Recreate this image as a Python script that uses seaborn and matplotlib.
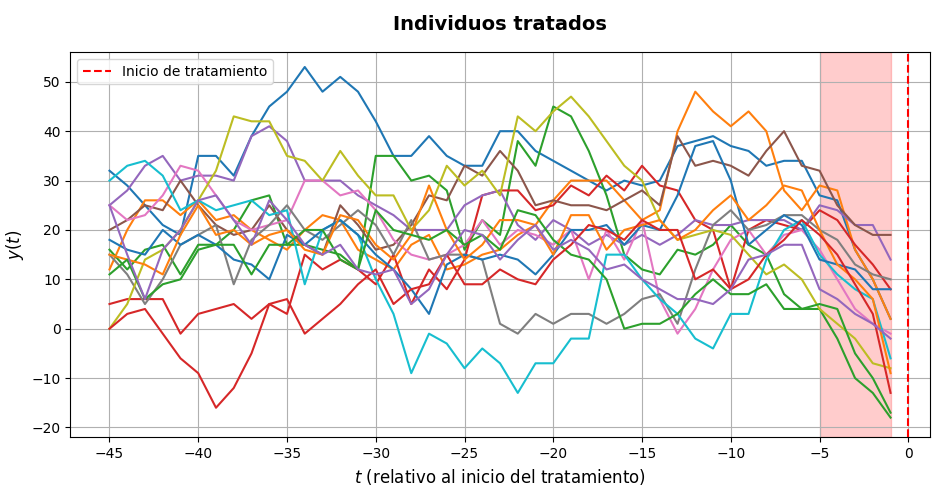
import matplotlib
matplotlib.use("Agg")
import matplotlib.pyplot as plt
import numpy as np
import pandas as pd
import seaborn as sns

t = list(range(-45, 0))

blue_a = [32, 29, 25, 21, 19, 35, 35, 31, 39, 45,
          48, 53, 48, 51, 48, 42, 35, 35, 39, 35,
          33, 33, 40, 40, 36, 34, 32, 30, 28, 30,
          29, 30, 37, 38, 39, 37, 36, 33, 34, 34,
          27, 26, 16, 10, 2]
orange_a = [12, 20, 26, 26, 23, 26, 22, 23, 20, 18,
            16, 20, 23, 22, 16, 14, 12, 17, 19, 12,
            13, 15, 16, 19, 21, 26, 30, 30, 30, 26,
            22, 24, 40, 48, 44, 41, 44, 40, 28, 24,
            29, 28, 16, 10, 2]
green_a = [16, 12, 16, 17, 11, 17, 17, 20, 26, 27,
           17, 17, 16, 15, 12, 35, 35, 30, 31, 28,
           16, 22, 19, 38, 33, 45, 43, 36, 27, 15,
           12, 11, 16, 15, 17, 21, 17, 15, 7, 4,
           4, -2, -10, -13, -18]
red_a = [5, 6, 6, 6, -1, 3, 4, 5, 2, 5,
         3, 15, 12, 14, 12, 9, 15, 5, 12, 8,
         14, 27, 28, 28, 24, 25, 29, 27, 31, 28,
         33, 29, 28, 22, 20, 8, 20, 22, 21, 20,
         24, 22, 17, 13, 8]
purple_a = [25, 28, 33, 35, 30, 31, 31, 30, 39, 41,
            38, 30, 30, 30, 27, 25, 23, 20, 20, 20,
            25, 27, 28, 21, 18, 22, 20, 17, 19, 17,
            19, 17, 19, 22, 21, 21, 22, 22, 22, 20,
            25, 24, 21, 21, 14]
brown = [20, 22, 25, 24, 30, 25, 21, 19, 20, 25,
         20, 17, 15, 25, 21, 16, 17, 21, 27, 26,
         33, 31, 36, 32, 25, 26, 25, 25, 24, 26,
         28, 25, 39, 33, 34, 33, 31, 36, 40, 33,
         32, 25, 21, 19, 19]
pink = [25, 22, 23, 27, 33, 32, 27, 22, 20, 21,
        22, 30, 30, 27, 28, 24, 18, 15, 14, 15,
        17, 22, 17, 20, 19, 17, 20, 10, 20, 14,
        22, 6, -1, 4, 12, 18, 20, 15, 19, 20,
        16, 10, 4, 1, -1]
gray = [15, 11, 5, 10, 17, 19, 21, 9, 18, 21,
        25, 20, 18, 21, 24, 21, 15, 22, 14, 15,
        15, 14, 1, -1, 3, 1, 3, 3, 1, 3,
        6, 7, 1, 12, 21, 24, 20, 21, 23, 23,
        20, 18, 13, 11, 10]
olive = [0, 5, 14, 16, 20, 26, 32, 43, 42, 42,
         35, 34, 30, 36, 31, 27, 27, 20, 24, 33,
         29, 32, 27, 43, 40, 44, 47, 43, 38, 33,
         30, 22, 18, 19, 20, 19, 15, 11, 13, 10,
         4, 1, -2, -7, -8]
cyan = [30, 33, 34, 31, 24, 26, 24, 25, 26, 23,
        24, 9, 20, 22, 19, 10, 3, -9, -1, -3,
        -8, -4, -7, -13, -7, -7, -2, -2, 15, 15,
        10, 6, 3, -2, -4, 3, 3, 14, 20, 22,
        15, 11, 8, 6, -6]
blue_b = [18, 16, 15, 20, 17, 19, 17, 14, 13, 10,
          19, 17, 20, 22, 19, 15, 12, 8, 3, 13,
          15, 14, 15, 14, 11, 15, 20, 20, 21, 17,
          21, 20, 27, 37, 38, 30, 17, 20, 23, 21,
          14, 13, 12, 8, 8]
orange_b = [15, 14, 13, 11, 19, 25, 19, 20, 17, 19,
            20, 16, 15, 23, 22, 17, 14, 19, 29, 20,
            14, 17, 22, 22, 21, 15, 23, 23, 16, 20,
            21, 22, 18, 20, 24, 27, 22, 25, 29, 28,
            20, 13, 10, 6, -9]
green_b = [11, 14, 6, 9, 10, 16, 17, 17, 11, 17,
           17, 20, 20, 14, 12, 24, 20, 19, 18, 20,
           17, 19, 16, 24, 23, 18, 15, 14, 10, 0,
           1, 1, 3, 7, 10, 7, 7, 9, 4, 4,
           5, 4, -5, -10, -17]
red_b = [0, 3, 4, -1, -6, -9, -16, -12, -5, 5,
         6, -1, 2, 5, 9, 12, 5, 8, 9, 15,
         9, 9, 12, 10, 9, 14, 17, 21, 20, 18,
         22, 20, 20, 10, 12, 8, 10, 15, 18, 22,
         19, 15, 9, 3, -13]
purple_b = [25, 15, 6, 16, 20, 26, 27, 22, 17, 26,
            22, 17, 15, 17, 12, 11, 12, 5, 8, 15,
            20, 19, 14, 18, 21, 16, 18, 16, 12, 13,
            10, 8, 6, 6, 5, 8, 14, 15, 17, 17,
            8, 6, 3, 1, -2]

series = [blue_a, orange_a, green_a, red_a, purple_a, brown, pink, gray,
          olive, cyan, blue_b, orange_b, green_b, red_b, purple_b]

fig, ax = plt.subplots(figsize=(9.39, 4.97), dpi=100)
colors = sns.color_palette("tab10")
for i, ys in enumerate(series):
    df = pd.DataFrame({"t": t, "y": ys})
    sns.lineplot(data=df, x="t", y="y", color=colors[i % 10], linewidth=1.5, ax=ax)

ax.axvspan(-5, -1, color="red", alpha=0.2)
ax.axvline(0, color="red", linestyle="--", linewidth=1.5, label="Inicio de tratamiento")
ax.set_xlim(-47.2, 1.2)
ax.set_ylim(-22, 56)
ax.set_xticks(range(-45, 1, 5))
ax.grid(True)
ax.set_title("Individuos tratados", fontsize=14, fontweight="bold", pad=16)
ax.set_xlabel("$t$ (relativo al inicio del tratamiento)", fontsize=12)
ax.set_ylabel("$y(t)$", fontsize=12)
ax.legend(loc="upper left")
fig.subplots_adjust(left=0.075, right=0.99, top=0.895, bottom=0.12)
fig.savefig("out.png", dpi=100)
